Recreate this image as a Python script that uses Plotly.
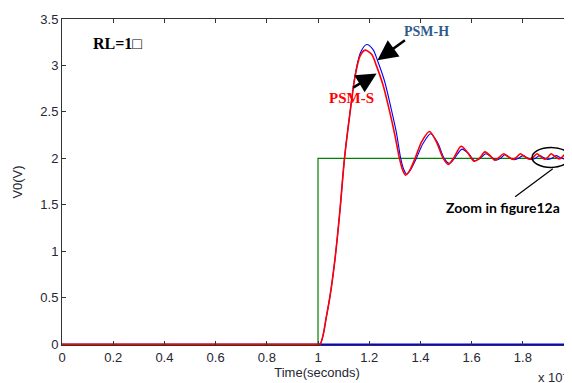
import plotly.graph_objects as go

# ---- data (time in ms, i.e. x 10^-3 s; voltage in V) ----
t_step = [0, 1.0, 1.0, 2.0]
v_step = [0, 0, 2, 2]

t_psm_s = [0, 0.999, 1.008, 1.02, 1.031, 1.047, 1.066, 1.086, 1.103, 1.125, 1.145, 1.164, 1.184,
           1.21, 1.229, 1.255, 1.281, 1.301, 1.318, 1.331, 1.342, 1.356, 1.379, 1.405, 1.435, 1.462,
           1.489, 1.509, 1.529, 1.559, 1.585, 1.609, 1.630, 1.652, 1.672, 1.690, 1.707, 1.725, 1.742,
           1.760, 1.775, 1.790, 1.807, 1.825, 1.840, 1.855, 1.870, 1.885, 1.897, 1.910, 1.925, 1.940,
           1.952, 1.965, 1.978, 1.990]
v_psm_s = [0, 0, 0, 0.1, 0.27, 0.52, 0.91, 1.45, 1.99, 2.49, 2.885, 3.10, 3.165,
           3.118, 2.99, 2.78, 2.49, 2.24, 2.0, 1.87, 1.82, 1.86, 2.0, 2.18, 2.29, 2.18,
           2.0, 1.935, 2.0, 2.13, 2.06, 1.97, 2.0, 2.07, 2.03, 1.98, 2.01, 2.05, 2.02,
           1.99, 2.01, 2.05, 2.02, 1.99, 2.01, 2.05, 2.02, 1.99, 2.01, 2.05, 2.02, 1.995,
           2.01, 2.045, 2.02, 2.0]

t_psm_h = [0, 0.999, 1.008, 1.02, 1.031, 1.047, 1.066, 1.086, 1.103, 1.125, 1.145, 1.166, 1.190,
           1.215, 1.234, 1.26, 1.286, 1.306, 1.323, 1.335, 1.346, 1.36, 1.384, 1.41, 1.44, 1.467,
           1.493, 1.513, 1.533, 1.562, 1.588, 1.612, 1.633, 1.655, 1.675, 1.695, 1.712, 1.73, 1.748,
           1.765, 1.782, 1.80, 1.815, 1.83, 1.848, 1.865, 1.88, 1.895, 1.912, 1.93, 1.945, 1.96,
           1.975, 1.99]
v_psm_h = [0, 0, 0, 0.1, 0.27, 0.52, 0.91, 1.45, 1.99, 2.50, 2.90, 3.14, 3.226,
           3.17, 3.04, 2.83, 2.53, 2.28, 2.0, 1.88, 1.83, 1.87, 2.0, 2.16, 2.265, 2.17,
           2.0, 1.945, 2.0, 2.10, 2.05, 1.975, 2.0, 2.05, 2.02, 1.98, 2.0, 2.04, 2.01,
           1.985, 2.0, 2.03, 2.01, 1.99, 2.0, 2.03, 2.01, 1.99, 2.0, 2.03, 2.01, 1.995,
           2.02, 2.0]

t_base = [1.0, 2.0]
v_base = [0, 0]

x_ticks = [0, 0.2, 0.4, 0.6, 0.8, 1, 1.2, 1.4, 1.6, 1.8, 2]
x_tick_labels = ["0", "0.2", "0.4", "0.6", "0.8", "1", "1.2", "1.4", "1.6", "1.8", "2"]
y_ticks = [0, 0.5, 1, 1.5, 2, 2.5, 3, 3.5]
y_tick_labels = ["0", "0.5", "1", "1.5", "2", "2.5", "3", "3.5"]

fig = go.Figure()
fig.add_trace(go.Scatter(x=t_step, y=v_step, mode="lines",
                         line=dict(color="#008000", width=1.2), showlegend=False))
fig.add_trace(go.Scatter(x=t_base, y=v_base, mode="lines",
                         line=dict(color="#0000ff", width=1.5), showlegend=False))
fig.add_trace(go.Scatter(x=t_psm_h, y=v_psm_h, mode="lines",
                         line=dict(color="#0000ff", width=1.1, shape="spline", smoothing=0.8),
                         showlegend=False))
fig.add_trace(go.Scatter(x=t_psm_s, y=v_psm_s, mode="lines",
                         line=dict(color="#ff0000", width=1.6, shape="spline", smoothing=0.8),
                         showlegend=False))

axis_font = dict(family="Liberation Sans, Arial, sans-serif", size=13, color="#262633")

# the page body adds ~8px offset, so margins are reduced accordingly
fig.update_layout(
    width=564, height=375,
    margin=dict(l=54, r=0, t=11, b=38),
    paper_bgcolor="white", plot_bgcolor="white",
    xaxis=dict(range=[0, 1.992], tickvals=x_ticks, ticktext=x_tick_labels, automargin=False,
               ticks="inside", ticklen=4, tickcolor="#333", showgrid=False, zeroline=False,
               showline=True, linecolor="#333", linewidth=1, mirror="ticks",
               tickfont=axis_font,
               title=dict(text="Time(seconds)", font=axis_font, standoff=2)),
    yaxis=dict(range=[-0.008, 3.5], tickvals=y_ticks, ticktext=y_tick_labels, automargin=False,
               ticks="inside", ticklen=4, tickcolor="#333", showgrid=False, zeroline=False,
               showline=True, linecolor="#333", linewidth=1, mirror="ticks",
               tickfont=axis_font,
               title=dict(text="V0(V)", font=axis_font, standoff=14)),
)

fig.add_annotation(x=0.215, y=3.237, xref="x", yref="y", text="<b>RL=1□</b>", showarrow=False,
                   font=dict(family="Liberation Serif, Times New Roman, serif", size=16, color="black"))
fig.add_annotation(x=1.422, y=3.366, xref="x", yref="y", text="<b>PSM-H</b>", showarrow=False,
                   font=dict(family="Liberation Serif, Times New Roman, serif", size=14, color="#2f5a8c"))
fig.add_annotation(x=1.131, y=2.645, xref="x", yref="y", text="<b>PSM-S</b>", showarrow=False,
                   font=dict(family="Liberation Serif, Times New Roman, serif", size=15, color="#ff0000"))
fig.add_annotation(x=1.232, y=3.057, xref="x", yref="y", text="", showarrow=True,
                   ax=29, ay=-21, arrowhead=2, arrowsize=1.6, arrowwidth=2.5, arrowcolor="black")
fig.add_annotation(x=1.229, y=2.914, xref="x", yref="y", text="", showarrow=True,
                   ax=-25, ay=15, arrowhead=2, arrowsize=1.6, arrowwidth=2.5, arrowcolor="black")
fig.add_annotation(x=1.723, y=1.473, xref="x", yref="y", text="<b>Zoom in figure12a</b>",
                   showarrow=False,
                   font=dict(family="Lato, Open Sans, sans-serif", size=14, color="black"))
fig.add_annotation(x=(536 - 62) / 510, y=-(377 - 345) / 326, xref="paper", yref="paper",
                   text="x 10<sup>-3</sup>", showarrow=False, font=axis_font,
                   xanchor="left", yanchor="middle")

fig.add_shape(type="circle", xref="x", yref="y", x0=1.836, x1=1.984, y0=1.903, y1=2.118,
              line=dict(color="black", width=1.5))
fig.add_shape(type="line", xref="x", yref="y", x0=1.917, y0=1.889, x1=1.770, y1=1.588,
              line=dict(color="black", width=1.2))

fig.write_html("out.html")
